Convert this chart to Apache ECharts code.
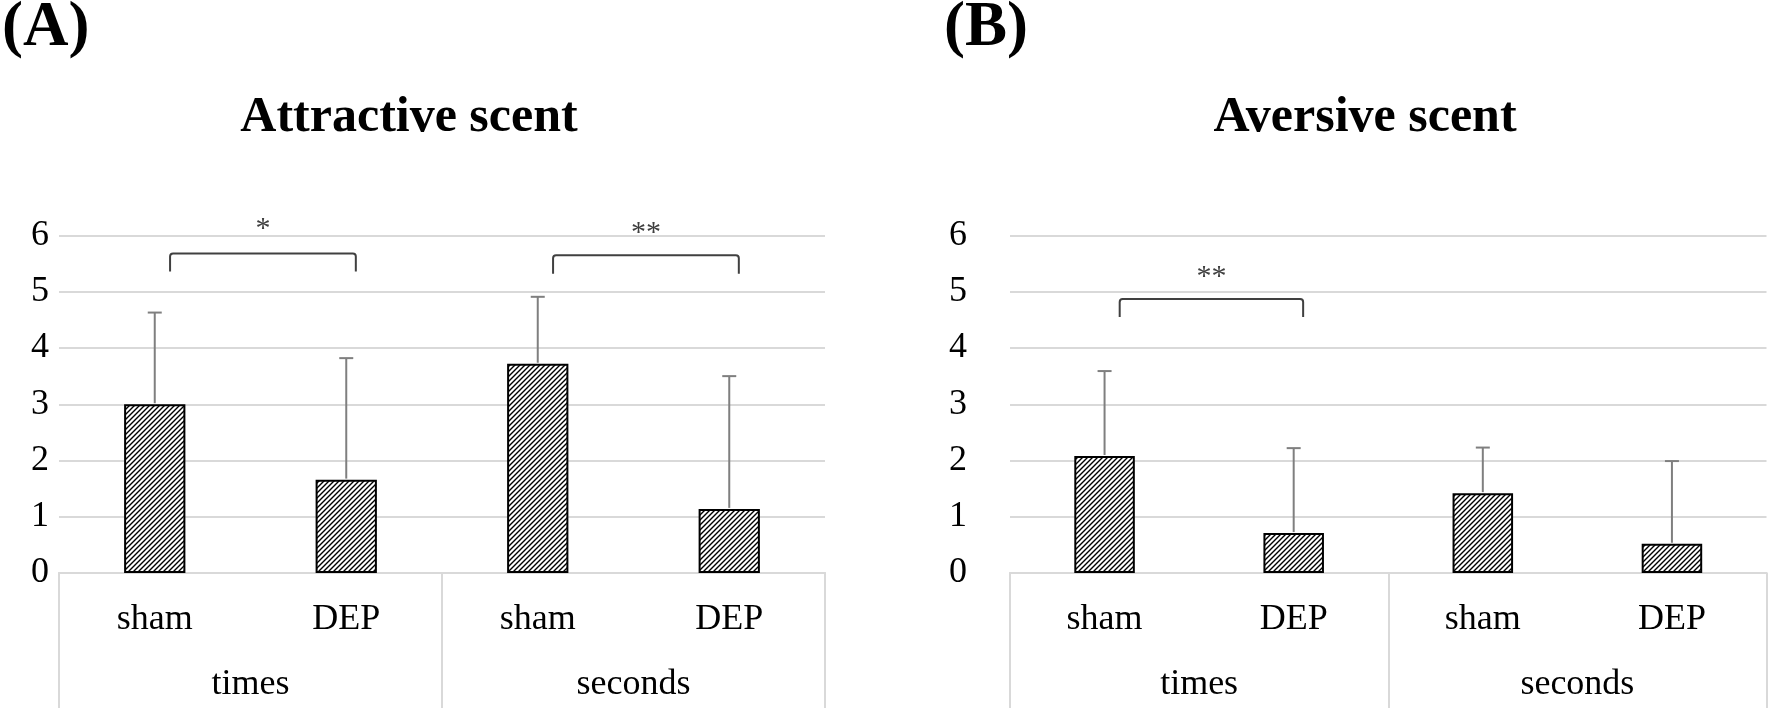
<!DOCTYPE html>
<html>
<head>
<meta charset="utf-8">
<script src="https://cdn.jsdelivr.net/npm/echarts@6/dist/echarts.min.js"></script>
<style>
html,body{margin:0;padding:0;background:#fff;}
#chart{width:1770px;height:711px;}
</style>
</head>
<body>
<div id="chart"></div>
<script>
// ---- data ----
const categories = ['sham', 'DEP', 'sham', 'DEP'];
const groups = ['times', 'seconds'];
const attractiveMean = [3.00, 1.66, 3.72, 1.14];
const attractiveSD = [1.63, 2.16, 1.19, 2.36];
const aversiveMean = [2.08, 0.71, 1.42, 0.52];
const aversiveSD = [1.51, 1.51, 0.81, 1.47];
// significance brackets: [fromIndex, toIndex, bracketY, legBottomY, labelY]
const attractiveSig = [[0, 1, 5.68, 5.36, 6.16], [2, 3, 5.65, 5.32, 6.10]];
const attractiveSigText = ['*', '**'];
const aversiveSig = [[0, 1, 4.87, 4.55, 5.31]];
const aversiveSigText = ['**'];
const titles = ['Attractive scent', 'Aversive scent'];
const panelLabels = ['(A)', '(B)'];

// ---- hatch pattern ----
function makeHatch() {
  const s = 5;
  const c = document.createElement('canvas');
  c.width = s; c.height = s;
  const g = c.getContext('2d');
  g.fillStyle = '#fff';
  g.fillRect(0, 0, s, s);
  g.strokeStyle = '#000';
  g.lineWidth = 1.4;
  g.beginPath();
  g.moveTo(-1, s + 1); g.lineTo(s + 1, -1);
  g.moveTo(-1, 1); g.lineTo(1, -1);
  g.moveTo(s - 1, s + 1); g.lineTo(s + 1, s - 1);
  g.stroke();
  return c;
}
const hatch = makeHatch();

const FONT = '"Liberation Serif", "Times New Roman", serif';
const gridColor = '#d9d9d9';

const grids = [
  { left: 59, right: 945, top: 235.5, bottom: 138 },
  { left: 1010, right: 3.5, top: 235.5, bottom: 138 }
];

function xAxesFor(gi) {
  return [
    {
      type: 'category', gridIndex: gi, data: categories, position: 'bottom', offset: 0,
      axisLine: { show: true, lineStyle: { color: gridColor, width: 2 } },
      axisTick: { show: false },
      axisLabel: { margin: 27, fontFamily: FONT, fontSize: 36, color: '#000', lineHeight: 40, interval: 0 }
    },
    {
      type: 'category', gridIndex: gi, data: groups, position: 'bottom', offset: 0,
      axisLine: { show: true, lineStyle: { color: gridColor, width: 2 } },
      axisTick: { show: true, length: 135, interval: 0, lineStyle: { color: gridColor, width: 2 } },
      axisLabel: { margin: 92, fontFamily: FONT, fontSize: 36, color: '#000', lineHeight: 40, interval: 0 }
    }
  ];
}

function yAxisFor(gi, margin) {
  return {
    type: 'value', gridIndex: gi, min: 0, max: 6, interval: 1,
    axisLine: { show: false }, axisTick: { show: false },
    splitLine: { show: true, lineStyle: { color: gridColor, width: 2 } },
    axisLabel: { margin: margin, fontFamily: FONT, fontSize: 36, color: '#000' }
  };
}

function barSeries(gi, means) {
  return {
    type: 'bar', xAxisIndex: gi * 2, yAxisIndex: gi, data: means,
    barWidth: '32%',
    itemStyle: { color: { image: hatch, repeat: 'repeat' }, borderColor: '#000', borderWidth: 2 },
    z: 3
  };
}

function errorSeries(gi, means, sds) {
  return {
    type: 'custom', xAxisIndex: gi * 2, yAxisIndex: gi, z: 4,
    data: means.map((m, i) => [i, m, m + sds[i]]),
    encode: { x: 0, y: 2 },
    renderItem: function (params, api) {
      const p0 = api.coord([api.value(0), api.value(1)]);
      const p1 = api.coord([api.value(0), api.value(2)]);
      const st = { stroke: '#7f7f7f', lineWidth: 2 };
      return {
        type: 'group',
        children: [
          { type: 'line', shape: { x1: p0[0], y1: p0[1] - 1, x2: p1[0], y2: p1[1] }, style: st },
          { type: 'line', shape: { x1: p1[0] - 7, y1: p1[1], x2: p1[0] + 7, y2: p1[1] }, style: st }
        ]
      };
    }
  };
}

function sigSeries(gi, sig, texts) {
  return {
    type: 'custom', xAxisIndex: gi * 2, yAxisIndex: gi, z: 5, clip: false,
    data: sig,
    encode: { x: 0, y: 2 },
    renderItem: function (params, api) {
      const band = api.size([1, 0])[0];
      const a = api.coord([api.value(0), api.value(2)]);
      const b = api.coord([api.value(1), api.value(2)]);
      const yLeg = api.coord([api.value(0), api.value(3)])[1];
      const yLab = api.coord([api.value(0), api.value(4)])[1];
      const x1 = a[0] + band * 0.08;
      const x2 = b[0] + band * 0.05;
      const y = a[1];
      const r = 3;
      return {
        type: 'group',
        children: [
          {
            type: 'path',
            shape: {
              pathData: 'M' + x1 + ' ' + yLeg + ' L' + x1 + ' ' + (y + r) + ' Q' + x1 + ' ' + y + ' ' + (x1 + r) + ' ' + y +
                ' L' + (x2 - r) + ' ' + y + ' Q' + x2 + ' ' + y + ' ' + x2 + ' ' + (y + r) + ' L' + x2 + ' ' + yLeg
            },
            style: { stroke: '#404040', lineWidth: 2, fill: null }
          },
          {
            type: 'text',
            x: (x1 + x2) / 2, y: yLab + 3,
            style: { text: texts[params.dataIndex], font: '30px ' + FONT, fill: '#404040', textAlign: 'center', textVerticalAlign: 'middle' }
          }
        ]
      };
    }
  };
}

const chart = echarts.init(document.getElementById('chart'), null, { renderer: 'canvas' });
chart.setOption({
  animation: false,
  backgroundColor: '#fff',
  grid: grids,
  xAxis: xAxesFor(0).concat(xAxesFor(1)),
  yAxis: [yAxisFor(0, 10), yAxisFor(1, 43)],
  graphic: [
    { type: 'text', x: 2, y: 29, style: { text: panelLabels[0], font: 'bold 63px ' + FONT, fill: '#000', textAlign: 'left', textVerticalAlign: 'middle' } },
    { type: 'text', x: 944, y: 29, style: { text: panelLabels[1], font: 'bold 63px ' + FONT, fill: '#000', textAlign: 'left', textVerticalAlign: 'middle' } },
    { type: 'text', x: 409, y: 118, style: { text: titles[0], font: 'bold 50px ' + FONT, fill: '#000', textAlign: 'center', textVerticalAlign: 'middle' } },
    { type: 'text', x: 1365, y: 118, style: { text: titles[1], font: 'bold 50px ' + FONT, fill: '#000', textAlign: 'center', textVerticalAlign: 'middle' } }
  ],
  series: [
    barSeries(0, attractiveMean),
    errorSeries(0, attractiveMean, attractiveSD),
    sigSeries(0, attractiveSig, attractiveSigText),
    barSeries(1, aversiveMean),
    errorSeries(1, aversiveMean, aversiveSD),
    sigSeries(1, aversiveSig, aversiveSigText)
  ]
});
</script>
</body>
</html>
